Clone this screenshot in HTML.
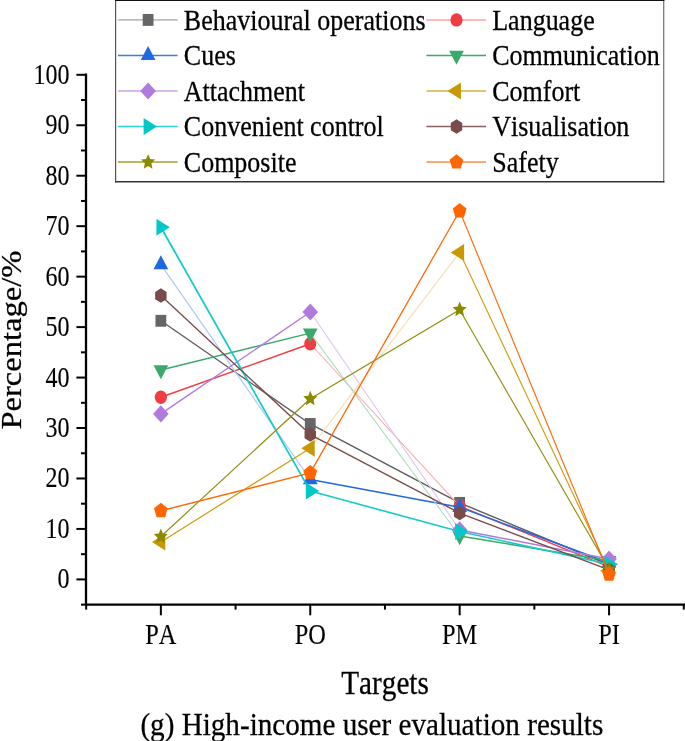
<!DOCTYPE html><html><head><meta charset="utf-8"><style>
html,body{margin:0;padding:0;background:#fff;}
svg{display:block;} #w{width:685px;height:741px;overflow:hidden;will-change:transform;}
text{font-family:"Liberation Serif",serif;fill:#000;font-kerning:none;stroke:#000;stroke-width:0.25px;}
</style></head><body><div id="w">
<svg width="685" height="741" viewBox="0 0 685 741">
<rect width="685" height="741" fill="#fff"/>
<g>
<line x1="86.0" y1="73.6" x2="86.0" y2="605.85" stroke="#000" stroke-width="2.3"/>
<line x1="84.85" y1="604.7" x2="685" y2="604.7" stroke="#000" stroke-width="2.3"/>
<line x1="76.4" y1="579.40" x2="86.0" y2="579.40" stroke="#000" stroke-width="2.0"/>
<line x1="76.4" y1="528.94" x2="86.0" y2="528.94" stroke="#000" stroke-width="2.0"/>
<line x1="76.4" y1="478.48" x2="86.0" y2="478.48" stroke="#000" stroke-width="2.0"/>
<line x1="76.4" y1="428.02" x2="86.0" y2="428.02" stroke="#000" stroke-width="2.0"/>
<line x1="76.4" y1="377.56" x2="86.0" y2="377.56" stroke="#000" stroke-width="2.0"/>
<line x1="76.4" y1="327.10" x2="86.0" y2="327.10" stroke="#000" stroke-width="2.0"/>
<line x1="76.4" y1="276.64" x2="86.0" y2="276.64" stroke="#000" stroke-width="2.0"/>
<line x1="76.4" y1="226.18" x2="86.0" y2="226.18" stroke="#000" stroke-width="2.0"/>
<line x1="76.4" y1="175.72" x2="86.0" y2="175.72" stroke="#000" stroke-width="2.0"/>
<line x1="76.4" y1="125.26" x2="86.0" y2="125.26" stroke="#000" stroke-width="2.0"/>
<line x1="76.4" y1="74.80" x2="86.0" y2="74.80" stroke="#000" stroke-width="2.0"/>
<line x1="81.0" y1="604.63" x2="86.0" y2="604.63" stroke="#000" stroke-width="2.0"/>
<line x1="81.0" y1="554.17" x2="86.0" y2="554.17" stroke="#000" stroke-width="2.0"/>
<line x1="81.0" y1="503.71" x2="86.0" y2="503.71" stroke="#000" stroke-width="2.0"/>
<line x1="81.0" y1="453.25" x2="86.0" y2="453.25" stroke="#000" stroke-width="2.0"/>
<line x1="81.0" y1="402.79" x2="86.0" y2="402.79" stroke="#000" stroke-width="2.0"/>
<line x1="81.0" y1="352.33" x2="86.0" y2="352.33" stroke="#000" stroke-width="2.0"/>
<line x1="81.0" y1="301.87" x2="86.0" y2="301.87" stroke="#000" stroke-width="2.0"/>
<line x1="81.0" y1="251.41" x2="86.0" y2="251.41" stroke="#000" stroke-width="2.0"/>
<line x1="81.0" y1="200.95" x2="86.0" y2="200.95" stroke="#000" stroke-width="2.0"/>
<line x1="81.0" y1="150.49" x2="86.0" y2="150.49" stroke="#000" stroke-width="2.0"/>
<line x1="81.0" y1="100.03" x2="86.0" y2="100.03" stroke="#000" stroke-width="2.0"/>
<line x1="160.86" y1="604.7" x2="160.86" y2="615.3" stroke="#000" stroke-width="2.0"/>
<line x1="310.26" y1="604.7" x2="310.26" y2="615.3" stroke="#000" stroke-width="2.0"/>
<line x1="459.66" y1="604.7" x2="459.66" y2="615.3" stroke="#000" stroke-width="2.0"/>
<line x1="609.06" y1="604.7" x2="609.06" y2="615.3" stroke="#000" stroke-width="2.0"/>
<line x1="86.16" y1="604.7" x2="86.16" y2="609.6" stroke="#000" stroke-width="2.0"/>
<line x1="235.56" y1="604.7" x2="235.56" y2="609.6" stroke="#000" stroke-width="2.0"/>
<line x1="384.96" y1="604.7" x2="384.96" y2="609.6" stroke="#000" stroke-width="2.0"/>
<line x1="534.36" y1="604.7" x2="534.36" y2="609.6" stroke="#000" stroke-width="2.0"/>
<line x1="683.76" y1="604.7" x2="683.76" y2="609.6" stroke="#000" stroke-width="2.0"/>
<text x="69.5" y="0" font-size="24" text-anchor="end" transform="translate(0 588.40) scale(1 1.185)" style="stroke-width:0.12px">0</text>
<text x="69.5" y="0" font-size="24" text-anchor="end" transform="translate(0 537.94) scale(1 1.185)" style="stroke-width:0.12px">10</text>
<text x="69.5" y="0" font-size="24" text-anchor="end" transform="translate(0 487.48) scale(1 1.185)" style="stroke-width:0.12px">20</text>
<text x="69.5" y="0" font-size="24" text-anchor="end" transform="translate(0 437.02) scale(1 1.185)" style="stroke-width:0.12px">30</text>
<text x="69.5" y="0" font-size="24" text-anchor="end" transform="translate(0 386.56) scale(1 1.185)" style="stroke-width:0.12px">40</text>
<text x="69.5" y="0" font-size="24" text-anchor="end" transform="translate(0 336.10) scale(1 1.185)" style="stroke-width:0.12px">50</text>
<text x="69.5" y="0" font-size="24" text-anchor="end" transform="translate(0 285.64) scale(1 1.185)" style="stroke-width:0.12px">60</text>
<text x="69.5" y="0" font-size="24" text-anchor="end" transform="translate(0 235.18) scale(1 1.185)" style="stroke-width:0.12px">70</text>
<text x="69.5" y="0" font-size="24" text-anchor="end" transform="translate(0 184.72) scale(1 1.185)" style="stroke-width:0.12px">80</text>
<text x="69.5" y="0" font-size="24" text-anchor="end" transform="translate(0 134.26) scale(1 1.185)" style="stroke-width:0.12px">90</text>
<text x="69.5" y="0" font-size="24" text-anchor="end" transform="translate(0 83.80) scale(1 1.185)" style="stroke-width:0.12px">100</text>
<text x="160.86" y="0" font-size="24.4" text-anchor="middle" transform="translate(0 643.6) scale(1 1.165)" style="stroke-width:0.12px">PA</text>
<text x="310.26" y="0" font-size="24.4" text-anchor="middle" transform="translate(0 643.6) scale(1 1.165)" style="stroke-width:0.12px">PO</text>
<text x="459.66" y="0" font-size="24.4" text-anchor="middle" transform="translate(0 643.6) scale(1 1.165)" style="stroke-width:0.12px">PM</text>
<text x="609.06" y="0" font-size="24.4" text-anchor="middle" transform="translate(0 643.6) scale(1 1.165)" style="stroke-width:0.12px">PI</text>
<text x="341.3" y="0" font-size="29.2" transform="translate(0 693.7) scale(1 1.145)">Targets</text>
<text x="0" y="0" font-size="29.6" transform="translate(21.3 429.6) rotate(-90) scale(1.1 1)">Percentage/%</text>
<text x="140.4" y="0" font-size="29.15" transform="translate(0 734.6) scale(1 1.08)">(g) High-income user evaluation results</text>
<line x1="160.86" y1="320.79" x2="310.26" y2="423.98" stroke="#5c5c5c" stroke-width="1.4" stroke-opacity="1.0"/>
<line x1="310.26" y1="423.98" x2="459.66" y2="502.95" stroke="#5c5c5c" stroke-width="1.4" stroke-opacity="1.0"/>
<line x1="459.66" y1="502.95" x2="609.06" y2="564.77" stroke="#5c5c5c" stroke-width="1.4" stroke-opacity="1.0"/>
<rect x="155.46" y="314.85" width="10.80" height="11.88" fill="#666666"/>
<rect x="304.86" y="418.04" width="10.80" height="11.88" fill="#666666"/>
<rect x="454.26" y="497.01" width="10.80" height="11.88" fill="#666666"/>
<rect x="603.66" y="558.83" width="10.80" height="11.88" fill="#666666"/>
<line x1="160.86" y1="397.24" x2="310.26" y2="343.75" stroke="#ef3d42" stroke-width="1.4" stroke-opacity="1.0"/>
<line x1="310.26" y1="343.75" x2="459.66" y2="506.23" stroke="#f8aaaa" stroke-width="1.05" stroke-opacity="1.0"/>
<line x1="459.66" y1="506.23" x2="609.06" y2="566.78" stroke="#ef3d42" stroke-width="1.4" stroke-opacity="1.0"/>
<ellipse cx="160.86" cy="397.24" rx="6.10" ry="6.71" fill="#ef3d42"/>
<ellipse cx="310.26" cy="343.75" rx="6.10" ry="6.71" fill="#ef3d42"/>
<ellipse cx="459.66" cy="506.23" rx="6.10" ry="6.71" fill="#ef3d42"/>
<ellipse cx="609.06" cy="566.78" rx="6.10" ry="6.71" fill="#ef3d42"/>
<line x1="160.86" y1="264.53" x2="310.26" y2="479.49" stroke="#b4c8f8" stroke-width="1.25" stroke-opacity="1.0"/>
<line x1="310.26" y1="479.49" x2="459.66" y2="507.24" stroke="#1f69e0" stroke-width="1.4" stroke-opacity="1.0"/>
<line x1="459.66" y1="507.24" x2="609.06" y2="562.75" stroke="#1f69e0" stroke-width="1.4" stroke-opacity="1.0"/>
<polygon points="160.86,255.19 168.21,269.20 153.51,269.20" fill="#1f69e0"/>
<polygon points="310.26,470.15 317.61,484.16 302.91,484.16" fill="#1f69e0"/>
<polygon points="459.66,497.91 467.01,511.91 452.31,511.91" fill="#1f69e0"/>
<polygon points="609.06,553.41 616.41,567.42 601.71,567.42" fill="#1f69e0"/>
<line x1="160.86" y1="369.99" x2="310.26" y2="333.16" stroke="#3aa96a" stroke-width="1.4" stroke-opacity="1.0"/>
<line x1="310.26" y1="333.16" x2="459.66" y2="536.00" stroke="#abdcbf" stroke-width="1.05" stroke-opacity="1.0"/>
<line x1="459.66" y1="536.00" x2="609.06" y2="560.73" stroke="#3aa96a" stroke-width="1.4" stroke-opacity="1.0"/>
<polygon points="160.86,379.33 153.51,365.32 168.21,365.32" fill="#3aa96a"/>
<polygon points="310.26,342.49 302.91,328.49 317.61,328.49" fill="#3aa96a"/>
<polygon points="459.66,545.34 452.31,531.34 467.01,531.34" fill="#3aa96a"/>
<polygon points="609.06,570.07 601.71,556.06 616.41,556.06" fill="#3aa96a"/>
<line x1="160.86" y1="413.89" x2="310.26" y2="311.96" stroke="#b07ade" stroke-width="1.4" stroke-opacity="1.0"/>
<line x1="310.26" y1="311.96" x2="459.66" y2="529.95" stroke="#dac4f4" stroke-width="1.05" stroke-opacity="1.0"/>
<line x1="459.66" y1="529.95" x2="609.06" y2="558.96" stroke="#b07ade" stroke-width="1.4" stroke-opacity="1.0"/>
<polygon points="160.86,405.31 168.66,413.89 160.86,422.47 153.06,413.89" fill="#b07ade"/>
<polygon points="310.26,303.38 318.06,311.96 310.26,320.54 302.46,311.96" fill="#b07ade"/>
<polygon points="459.66,521.37 467.46,529.95 459.66,538.53 451.86,529.95" fill="#b07ade"/>
<polygon points="609.06,550.38 616.86,558.96 609.06,567.54 601.26,558.96" fill="#b07ade"/>
<line x1="160.86" y1="542.06" x2="310.26" y2="448.20" stroke="#cc9c0a" stroke-width="1.2" stroke-opacity="1.0"/>
<line x1="310.26" y1="448.20" x2="459.66" y2="252.42" stroke="#f1dcaa" stroke-width="1.05" stroke-opacity="1.0"/>
<line x1="459.66" y1="252.42" x2="609.06" y2="570.82" stroke="#cf9f10" stroke-width="1.15" stroke-opacity="1.0"/>
<polygon points="151.97,542.06 165.31,533.59 165.31,550.53" fill="#c99700"/>
<polygon points="301.37,448.20 314.71,439.73 314.71,456.67" fill="#c99700"/>
<polygon points="450.77,252.42 464.11,243.95 464.11,260.89" fill="#c99700"/>
<polygon points="600.17,570.82 613.51,562.35 613.51,579.29" fill="#c99700"/>
<line x1="160.86" y1="227.19" x2="310.26" y2="491.09" stroke="#14cbcb" stroke-width="1.8" stroke-opacity="1.0"/>
<line x1="310.26" y1="491.09" x2="459.66" y2="531.46" stroke="#14cbcb" stroke-width="1.6" stroke-opacity="1.0"/>
<line x1="459.66" y1="531.46" x2="609.06" y2="564.26" stroke="#14cbcb" stroke-width="1.6" stroke-opacity="1.0"/>
<polygon points="169.75,227.19 156.41,235.66 156.41,218.72" fill="#00c8c8"/>
<polygon points="319.15,491.09 305.81,499.56 305.81,482.62" fill="#00c8c8"/>
<polygon points="468.55,531.46 455.21,539.93 455.21,522.99" fill="#00c8c8"/>
<polygon points="617.95,564.26 604.61,572.73 604.61,555.79" fill="#00c8c8"/>
<line x1="160.86" y1="295.56" x2="310.26" y2="434.58" stroke="#7a4b4b" stroke-width="1.4" stroke-opacity="1.0"/>
<line x1="310.26" y1="434.58" x2="459.66" y2="513.05" stroke="#7a4b4b" stroke-width="1.4" stroke-opacity="1.0"/>
<line x1="459.66" y1="513.05" x2="609.06" y2="569.81" stroke="#7a4b4b" stroke-width="1.4" stroke-opacity="1.0"/>
<polygon points="160.86,288.30 166.58,291.93 166.58,299.19 160.86,302.82 155.14,299.19 155.14,291.93" fill="#7a4b4b"/>
<polygon points="310.26,427.32 315.98,430.95 315.98,438.21 310.26,441.84 304.54,438.21 304.54,430.95" fill="#7a4b4b"/>
<polygon points="459.66,505.79 465.38,509.42 465.38,516.68 459.66,520.31 453.94,516.68 453.94,509.42" fill="#7a4b4b"/>
<polygon points="609.06,562.55 614.78,566.18 614.78,573.44 609.06,577.07 603.34,573.44 603.34,566.18" fill="#7a4b4b"/>
<line x1="160.86" y1="536.51" x2="310.26" y2="398.75" stroke="#8f8f10" stroke-width="1.2" stroke-opacity="1.0"/>
<line x1="310.26" y1="398.75" x2="459.66" y2="309.69" stroke="#8f8f10" stroke-width="1.3" stroke-opacity="1.0"/>
<line x1="459.66" y1="309.69" x2="609.06" y2="569.31" stroke="#8f8f10" stroke-width="1.15" stroke-opacity="1.0"/>
<polygon points="160.86,528.42 162.89,533.43 167.85,534.01 164.15,537.68 165.18,543.05 160.86,540.31 156.54,543.05 157.57,537.68 153.87,534.01 158.83,533.43" fill="#8a8a00"/>
<polygon points="310.26,390.67 312.29,395.68 317.25,396.25 313.55,399.93 314.58,405.29 310.26,402.55 305.94,405.29 306.97,399.93 303.27,396.25 308.23,395.68" fill="#8a8a00"/>
<polygon points="459.66,301.61 461.69,306.62 466.65,307.19 462.95,310.87 463.98,316.23 459.66,313.49 455.34,316.23 456.37,310.87 452.67,307.19 457.63,306.62" fill="#8a8a00"/>
<polygon points="609.06,561.22 611.09,566.23 616.05,566.81 612.35,570.48 613.38,575.85 609.06,573.11 604.74,575.85 605.77,570.48 602.07,566.81 607.03,566.23" fill="#8a8a00"/>
<line x1="160.86" y1="510.77" x2="310.26" y2="472.93" stroke="#ff6600" stroke-width="1.4" stroke-opacity="1.0"/>
<line x1="310.26" y1="472.93" x2="459.66" y2="211.04" stroke="#ff6600" stroke-width="1.25" stroke-opacity="1.0"/>
<line x1="459.66" y1="211.04" x2="609.06" y2="574.35" stroke="#ff6a08" stroke-width="1.15" stroke-opacity="1.0"/>
<polygon points="160.86,502.85 167.71,508.33 165.09,517.18 156.63,517.18 154.01,508.33" fill="#ff6600"/>
<polygon points="310.26,465.01 317.11,470.48 314.49,479.34 306.03,479.34 303.41,470.48" fill="#ff6600"/>
<polygon points="459.66,203.12 466.51,208.59 463.89,217.45 455.43,217.45 452.81,208.59" fill="#ff6600"/>
<polygon points="609.06,566.43 615.91,571.91 613.29,580.76 604.83,580.76 602.21,571.91" fill="#ff6600"/>
<rect x="115.6" y="0.5" width="548.1" height="181.2" fill="#fff"/>
<line x1="115.6" y1="0" x2="115.6" y2="182.5" stroke="#555" stroke-width="1.2"/>
<line x1="663.7" y1="0" x2="663.7" y2="182.5" stroke="#7a7a7a" stroke-width="1.3"/>
<line x1="115" y1="0.55" x2="664.4" y2="0.55" stroke="#111" stroke-width="1.1"/>
<line x1="115" y1="181.75" x2="664.4" y2="181.75" stroke="#333" stroke-width="1.6"/>
<line x1="118.00" y1="19.90" x2="177.60" y2="19.90" stroke="#bdbdbd" stroke-width="1.9"/>
<rect x="142.70" y="13.96" width="10.80" height="11.88" fill="#666666"/>
<text x="183.85" y="0" font-size="26.0" transform="translate(0 29.55) scale(1 1.14)">Behavioural operations</text>
<line x1="426.40" y1="19.90" x2="486.00" y2="19.90" stroke="#f7a3a3" stroke-width="1.5"/>
<ellipse cx="456.50" cy="19.90" rx="6.10" ry="6.71" fill="#ef3d42"/>
<text x="492.25" y="0" font-size="26.0" transform="translate(0 29.55) scale(1 1.14)">Language</text>
<line x1="118.00" y1="55.45" x2="177.60" y2="55.45" stroke="#3a7de8" stroke-width="1.5"/>
<polygon points="148.10,46.11 155.45,60.12 140.75,60.12" fill="#1f69e0"/>
<text x="183.85" y="0" font-size="26.0" transform="translate(0 65.10) scale(1 1.14)">Cues</text>
<line x1="426.40" y1="55.45" x2="486.00" y2="55.45" stroke="#3aa96a" stroke-width="1.5"/>
<polygon points="456.50,64.79 449.15,50.78 463.85,50.78" fill="#3aa96a"/>
<text x="492.25" y="0" font-size="26.0" transform="translate(0 65.10) scale(1 1.14)">Communication</text>
<line x1="118.00" y1="91.00" x2="177.60" y2="91.00" stroke="#c9a3ec" stroke-width="1.5"/>
<polygon points="148.10,82.42 155.90,91.00 148.10,99.58 140.30,91.00" fill="#b07ade"/>
<text x="183.85" y="0" font-size="26.0" transform="translate(0 100.65) scale(1 1.14)">Attachment</text>
<line x1="426.40" y1="91.00" x2="486.00" y2="91.00" stroke="#d9b040" stroke-width="1.5"/>
<polygon points="447.61,91.00 460.95,82.53 460.95,99.47" fill="#c99700"/>
<text x="492.25" y="0" font-size="26.0" transform="translate(0 100.65) scale(1 1.14)">Comfort</text>
<line x1="118.00" y1="126.55" x2="177.60" y2="126.55" stroke="#30d0d0" stroke-width="1.5"/>
<polygon points="156.99,126.55 143.65,135.02 143.65,118.08" fill="#00c8c8"/>
<text x="183.85" y="0" font-size="26.0" transform="translate(0 136.20) scale(1 1.14)">Convenient control</text>
<line x1="426.40" y1="126.55" x2="486.00" y2="126.55" stroke="#8a6060" stroke-width="1.5"/>
<polygon points="456.50,119.29 462.22,122.92 462.22,130.18 456.50,133.81 450.78,130.18 450.78,122.92" fill="#7a4b4b"/>
<text x="492.25" y="0" font-size="26.0" transform="translate(0 136.20) scale(1 1.14)">Visualisation</text>
<line x1="118.00" y1="162.10" x2="177.60" y2="162.10" stroke="#a0a030" stroke-width="1.5"/>
<polygon points="148.10,154.01 150.13,159.03 155.09,159.60 151.39,163.27 152.42,168.64 148.10,165.90 143.78,168.64 144.81,163.27 141.11,159.60 146.07,159.03" fill="#8a8a00"/>
<text x="183.85" y="0" font-size="26.0" transform="translate(0 171.75) scale(1 1.14)">Composite</text>
<line x1="426.40" y1="162.10" x2="486.00" y2="162.10" stroke="#ff8c40" stroke-width="1.5"/>
<polygon points="456.50,154.18 463.35,159.65 460.73,168.51 452.27,168.51 449.65,159.65" fill="#ff6600"/>
<text x="492.25" y="0" font-size="26.0" transform="translate(0 171.75) scale(1 1.14)">Safety</text>
</g></svg></div></body></html>
